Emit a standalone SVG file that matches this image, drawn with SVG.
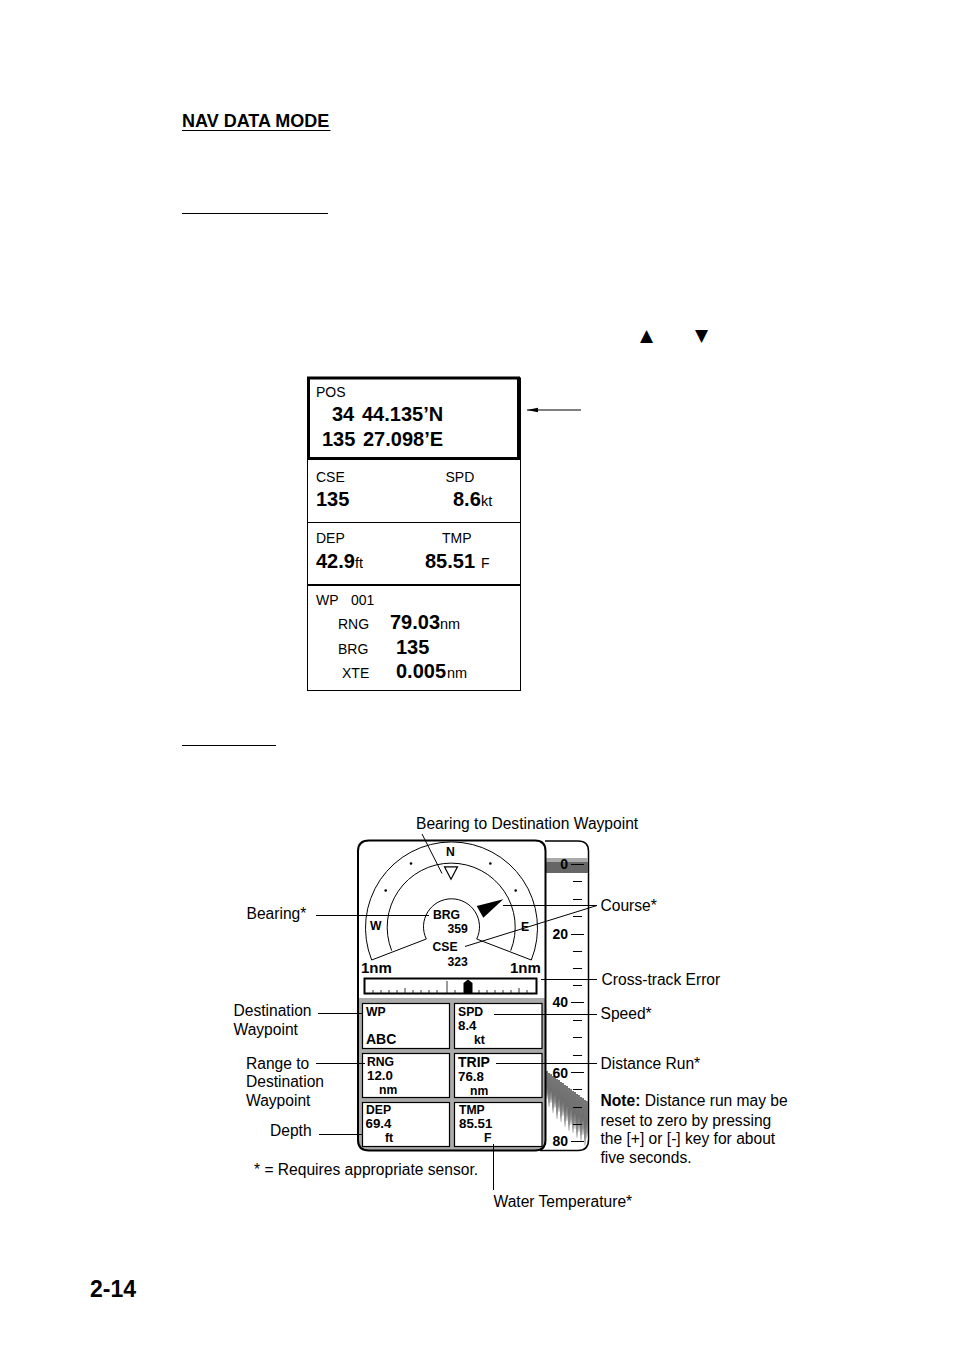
<svg xmlns="http://www.w3.org/2000/svg" width="954" height="1351" viewBox="0 0 954 1351">
<style>
text{font-family:"Liberation Sans",Arial,sans-serif;fill:#000}
.b{font-weight:bold}
.l{font-size:15.600px}
.v{font-size:20px;font-weight:bold}
.u{font-size:14px}
.w{font-size:14.500px}
.m{font-size:12.200px;font-weight:bold}
.n{font-size:13.300px;font-weight:bold}
.c{font-size:14px;font-weight:bold}
.sc{font-size:14px;font-weight:bold;text-anchor:end}
.k{stroke:#000;stroke-width:1;fill:none}
.k2{stroke:#000;stroke-width:2;fill:none}
.cell{fill:#fff;stroke:#000;stroke-width:1.200}
.e{fill:url(#eg)}
.d{font-size:17px;font-family:"DejaVu Sans",sans-serif}
</style>
<defs>
<linearGradient id="eg" x1="0" y1="0" x2="0" y2="1"><stop offset="0" stop-color="#777"/><stop offset=".55" stop-color="#6e6e6e"/><stop offset=".82" stop-color="#929292"/><stop offset="1" stop-color="#e4e4e4"/></linearGradient>
<marker id="ah" markerWidth="12" markerHeight="6" refX="11" refY="3" orient="auto-start-reverse" markerUnits="userSpaceOnUse"><path d="M11 3L0 .8V5.200Z" fill="#000"/></marker>
</defs>
<rect width="954" height="1351" fill="#fff"/>
<g id="page">
<text x="182" y="127" class="b" font-size="18">NAV DATA MODE</text>
<path class="k" d="M182 130.500H330.500M182 213.500H328M182 745.500H276"/>
<text x="640" y="341" class="d">▲</text>
<text x="695" y="341" class="d">▼</text>
<text x="90" y="1297" class="b" font-size="23">2-14</text>
</g>
<g id="data-box">
<rect x="307.500" y="378" width="213" height="312.500" class="k"/>
<rect x="308.500" y="378" width="210" height="80.500" fill="#fff" stroke="#000" stroke-width="3"/>
<path class="k" d="M308 522.500H520"/>
<path class="k2" d="M308 585H520"/>
<text x="316" y="397" class="u">POS</text>
<text x="332" y="421" class="v">34</text><text x="362" y="421" class="v">44.135’N</text>
<text x="322" y="446" class="v">135</text><text x="363" y="446" class="v">27.098’E</text>
<text x="316" y="482" class="u">CSE</text><text x="445.500" y="482" class="u">SPD</text>
<text x="316" y="506" class="v">135</text><text x="453" y="506" class="v">8.6</text><text x="481" y="506" class="w">kt</text>
<text x="316" y="568" class="v">42.9</text><text x="355" y="568" class="w">ft</text>
<text x="316" y="543" class="u">DEP</text><text x="442" y="543" class="u">TMP</text>
<text x="425" y="568" class="v">85.51</text><text x="481" y="568" class="u">F</text>
<text x="316" y="605" class="u">WP</text><text x="351" y="605" class="u">001</text>
<text x="338" y="629" class="u">RNG</text><text x="390" y="629" class="v">79.03</text><text x="440" y="629" class="w">nm</text>
<text x="338" y="654" class="u">BRG</text><text x="396" y="654" class="v">135</text>
<text x="342" y="678" class="u">XTE</text><text x="396" y="678" class="v">0.005</text><text x="447" y="678" class="w">nm</text>
</g>
<g id="depth-scale">
<path d="M545 841H578Q588.500 841 588.500 851V1140Q588.500 1150.500 578 1150.500H540" fill="#fff" stroke="#000" stroke-width="1.500"/>
<rect x="546" y="858" width="42" height="4" fill="#aaa"/>
<rect x="546" y="862" width="42" height="11" fill="#666"/>
<g id="echogram">
<rect class="e" x="546" y="1071" width="2" height="28"/><rect class="e" x="548" y="1073" width="2" height="34"/><rect class="e" x="550" y="1074" width="2" height="29"/><rect class="e" x="552" y="1076" width="2" height="37"/><rect class="e" x="554" y="1077" width="2" height="31"/><rect class="e" x="556" y="1079" width="2" height="40"/><rect class="e" x="558" y="1080" width="2" height="32"/><rect class="e" x="560" y="1082" width="2" height="40"/><rect class="e" x="562" y="1083" width="2" height="33"/><rect class="e" x="564" y="1085" width="2" height="42"/><rect class="e" x="566" y="1086" width="2" height="35"/><rect class="e" x="568" y="1088" width="2" height="43"/><rect class="e" x="570" y="1089" width="2" height="36"/><rect class="e" x="572" y="1091" width="2" height="42"/><rect class="e" x="574" y="1092" width="2" height="37"/><rect class="e" x="576" y="1094" width="2" height="44"/><rect class="e" x="578" y="1095" width="2" height="37"/><rect class="e" x="580" y="1097" width="2" height="44"/><rect class="e" x="582" y="1098" width="2" height="37"/><rect class="e" x="584" y="1100" width="2" height="46"/><rect class="e" x="586" y="1101" width="2" height="38"/>
</g>
<path class="k" d="M571 864.500H584M573 881.500H582M573 899.500H582M573 916.500H582M571 934.500H584M573 951.500H582M573 968.500H582M573 985.500H582M571 1002.500H584M573 1020.500H582M573 1037.500H582M573 1055.500H582M571 1072.500H584M573 1089.500H582M573 1107.500H582M573 1124.500H582M571 1141.500H584"/>
<text x="568" y="869" class="sc">0</text><text x="568" y="939" class="sc">20</text><text x="568" y="1007" class="sc">40</text><text x="568" y="1078" class="sc">60</text><text x="568" y="1146" class="sc">80</text>
</g>
<g id="display">
<path d="M369 840.500H535Q545.500 840.500 545.500 851V1140Q545.500 1150.500 535 1150.500H369Q358 1150.500 358 1140V851Q358 840.500 369 840.500Z" fill="#fff"/>
<path d="M358 998H545.500V1140Q545.500 1150.500 535 1150.500H369Q358 1150.500 358 1140Z" fill="#aaa"/>
<path d="M369 840.500H535Q545.500 840.500 545.500 851V1140Q545.500 1150.500 535 1150.500H369Q358 1150.500 358 1140V851Q358 840.500 369 840.500Z" fill="none" stroke="#000" stroke-width="2"/>
</g>
<g id="compass">
<path class="k" d="M371.700 960A86 86 0 1 1 531.300 960L476.700 939A28 28 0 1 0 426.300 939Z"/>
<path class="k" d="M391.700 950.700A64 64 0 1 1 510.700 950.700"/>
<circle cx="411" cy="863.500" r="1.300"/><circle cx="490.300" cy="863.500" r="1.300"/><circle cx="385.700" cy="890.500" r="1.300"/><circle cx="515.700" cy="890.500" r="1.300"/>
<path class="k" style="stroke-width:1.200" d="M444.500 866.800H457.500L451 879.300Z"/>
<path d="M503.300 899.300L476.700 906L483.300 917.700Z"/>
<text x="446" y="856" class="m">N</text><text x="370" y="930" class="m">W</text><text x="521" y="931" class="m">E</text>
<text x="433" y="919" class="m">BRG</text><text x="447.500" y="933" class="m">359</text>
<text x="432.500" y="951" class="m">CSE</text><text x="447.500" y="966" class="m">323</text>
<text x="361" y="973" class="b" font-size="15">1nm</text><text x="510" y="973" class="b" font-size="15">1nm</text>
</g>
<g id="xte-bar">
<rect x="364.500" y="978.500" width="172" height="15" fill="#fff" stroke="#000" stroke-width="2"/>
<path stroke="#000" stroke-width=".8" d="M373 990V993M381 990V993M389 990V993M397 990V993M405 988V993M413 990V993M421 990V993M429 990V993M437 990V993M447 981V993M455 990V993M479 990V993M487 990V993M495 990V993M503 990V993M511 990V993M519 988V993M527 990V993"/>
<path d="M463.500 993V983L468 979.500L472.500 983V993Z"/>
</g>
<g id="cells">
<rect class="cell" x="362.500" y="1003.500" width="87" height="45"/><rect class="cell" x="454.500" y="1003.500" width="87.500" height="45"/>
<rect class="cell" x="362.500" y="1053.500" width="87" height="44"/><rect class="cell" x="454.500" y="1053.500" width="87.500" height="44"/>
<rect class="cell" x="362.500" y="1102.500" width="87" height="44"/><rect class="cell" x="454.500" y="1102.500" width="87.500" height="44"/>
<text x="366" y="1016" class="m">WP</text><text x="366" y="1044" class="c">ABC</text>
<text x="458" y="1016" class="m">SPD</text><text x="458" y="1030" class="n">8.4</text><text x="474" y="1044" class="m">kt</text>
<text x="367" y="1066" class="m">RNG</text><text x="367" y="1080" class="n">12.0</text><text x="379" y="1094" class="m">nm</text>
<text x="458" y="1067" class="c">TRIP</text><text x="458" y="1081" class="n">76.8</text><text x="470" y="1095" class="m">nm</text>
<text x="366" y="1114" class="m">DEP</text><text x="365.500" y="1128" class="n">69.4</text><text x="385" y="1142" class="m">ft</text>
<text x="459" y="1114" class="m">TMP</text><text x="459" y="1128" class="n">85.51</text><text x="484" y="1142" class="m">F</text>
</g>
<g id="connectors">
<path class="k" d="M527 410H581" marker-start="url(#ah)"/>
<path class="k" d="M422 834L442 873.500"/>
<path class="k" d="M316 915.500H429"/>
<path class="k" d="M503 905.500H597M465 946.500L597 905.500"/>
<path class="k" d="M541 979.500H597"/>
<path class="k" d="M318 1013.500H362"/>
<path class="k" d="M494 1014.500H597"/>
<path class="k" d="M316 1063.500H365"/>
<path class="k" d="M496 1063.500H597"/>
<path class="k" d="M319 1134.500H362"/>
<path class="k" d="M493.500 1144V1190"/>
</g>
<g id="labels">
<text x="416" y="829" class="l">Bearing to Destination Waypoint</text>
<text x="246.500" y="919" class="l">Bearing*</text>
<text x="600.500" y="911" class="l">Course*</text>
<text x="601.500" y="985" class="l">Cross-track Error</text>
<text x="233.500" y="1016" class="l">Destination</text><text x="233.500" y="1035" class="l">Waypoint</text>
<text x="600.500" y="1019" class="l">Speed*</text>
<text x="246" y="1069" class="l">Range to</text><text x="246" y="1087" class="l">Destination</text><text x="246" y="1106" class="l">Waypoint</text>
<text x="600.500" y="1069" class="l">Distance Run*</text>
<text x="600.500" y="1106" class="l"><tspan class="b">Note:</tspan> Distance run may be</text>
<text x="600.500" y="1126" class="l">reset to zero by pressing</text>
<text x="600.500" y="1144" class="l">the [+] or [-] key for about</text>
<text x="600.500" y="1163" class="l">five seconds.</text>
<text x="270" y="1136" class="l">Depth</text>
<text x="254" y="1175" class="l">* = Requires appropriate sensor.</text>
<text x="493.500" y="1207" class="l">Water Temperature*</text>
</g>
</svg>
